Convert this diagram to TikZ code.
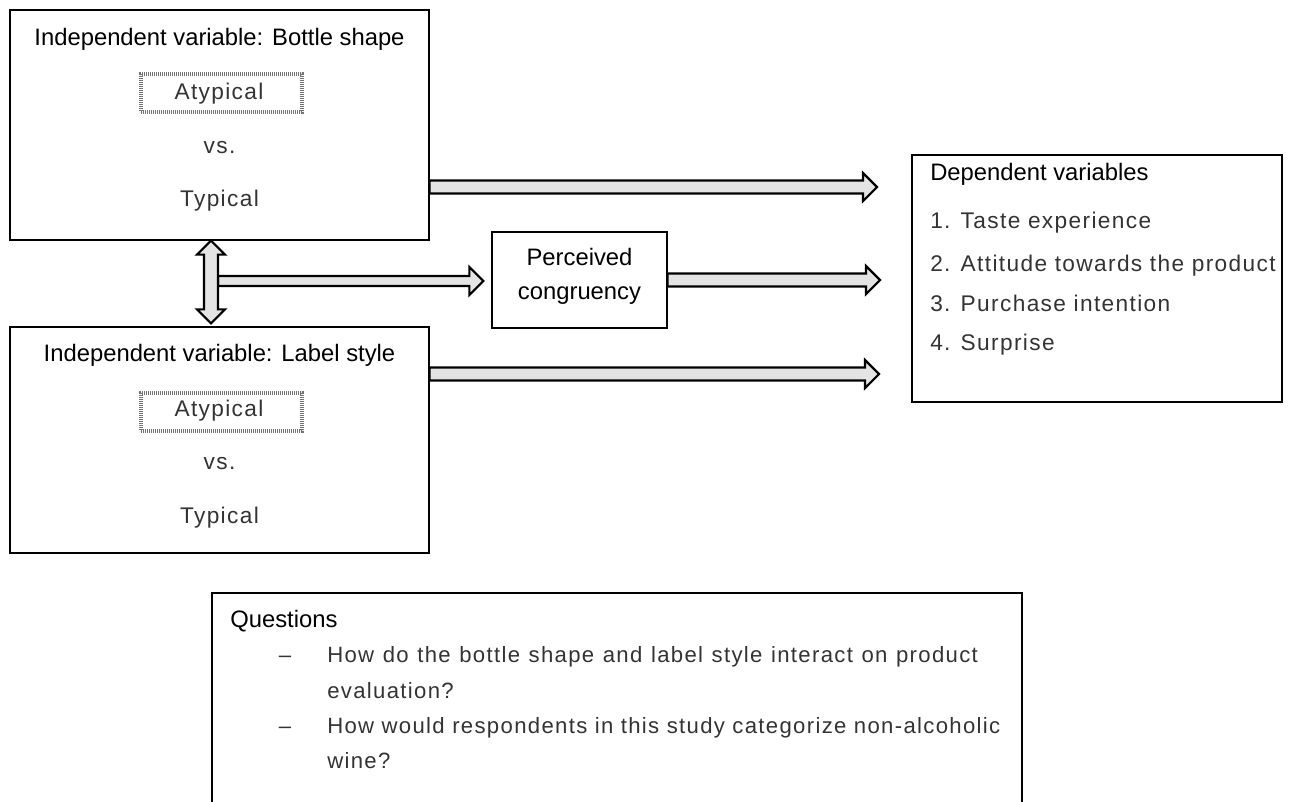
\documentclass[tikz,border=0pt]{standalone}
\usepackage{fontspec}
\setmainfont{Liberation Sans}
\newfontfamily\lightfont[LetterSpace=6]{Liberation Sans}
\usetikzlibrary{calc,fit}
\definecolor{arrowfill}{HTML}{E4E4E4}
\definecolor{softtext}{HTML}{333333}
\newcommand\hblock[3]{% start, end, shaft half-height
  \draw[blk] ($(#1)+(0,-#3)$) -- ($(#2)+(-14,-#3)$) -- ($(#2)+(-14,-14)$) -- (#2)
    -- ($(#2)+(-14,14)$) -- ($(#2)+(-14,#3)$) -- ($(#1)+(0,#3)$) -- cycle;}
\begin{document}
\begin{tikzpicture}[x=0.75pt,y=-0.75pt,
  box/.style={draw=black, line width=0.9pt, inner sep=0pt},
  head/.style={font=\fontsize{17.85pt}{20pt}\selectfont, text=black, inner sep=0pt, anchor=base},
  soft/.style={font=\lightfont\fontsize{17pt}{20pt}\selectfont, text=softtext, inner sep=0pt, anchor=base},
  qsoft/.style={soft, font=\lightfont\fontsize{16.6pt}{20pt}\selectfont},
  dotbox/.style={draw=black!55, line width=2.4pt, dash pattern=on 0.9pt off 0.6pt, inner sep=0pt},
  blk/.style={draw=black, line width=1.6pt, fill=arrowfill, line join=miter}]
\useasboundingbox (0,0) rectangle (1291,801);
\clip (0,0) rectangle (1291,801);

% boxes
\node[box, fit={(10,10) (429,240)}] (bottle) {};
\node[box, fit={(10,327) (429,553)}] (labelbox) {};
\node[box, fit={(492,232) (667,328)}] (congr) {};
\node[box, fit={(912,155) (1282,402)}] (dv) {};
\node[box, fit={(212,593) (1022,860)}] (qbox) {};

% bottle shape box
\node[head] (bt) at (219.5,45) {Independent variable: Bottle shape};
\node[dotbox, fit={(141,74) (302,112)}] (bdot) {};
\node[soft] (bat) at (219,99) {Atypical};
\node[soft] (bvs) at (219.5,153) {vs.};
\node[soft] (btyp) at (219.5,206) {Typical};

% label style box
\node[head] (lt) at (219.5,361) {Independent variable: Label style};
\node[dotbox, fit={(141,393) (302,431)}] (ldot) {};
\node[soft] (lat) at (219,416) {Atypical};
\node[soft] (lvs) at (219.5,469) {vs.};
\node[soft] (ltyp) at (219.5,523) {Typical};

% perceived congruency
\node[head] (pc1) at (579.5,265) {Perceived};
\node[head] (pc2) at (579.5,299) {congruency};

% dependent variables
\node[head, anchor=base west] (dvt) at (930,180) {Dependent variables};
\node[soft, anchor=base west] (dv1) at (930,228) {1. Taste experience};
\node[soft, anchor=base west] (dv2) at (930,271) {2. Attitude towards the product};
\node[soft, anchor=base west] (dv3) at (930,311) {3. Purchase intention};
\node[soft, anchor=base west] (dv4) at (930,350) {4. Surprise};

% questions
\node[head, anchor=base west] (qt) at (230,627) {Questions};
\node[qsoft] (qd1) at (285,662) {\textendash};
\node[qsoft, anchor=base west] (q1a) at (327,662) {\makebox[488pt][s]{How do the bottle shape and label style interact on product}};
\node[qsoft, anchor=base west] (q1b) at (327,698) {evaluation?};
\node[qsoft] (qd2) at (285,733) {\textendash};
\node[qsoft, anchor=base west] (q2a) at (327,733) {How would respondents in this study categorize non-alcoholic};
\node[qsoft, anchor=base west] (q2b) at (327,768) {wine?};

% block arrows
\coordinate (a1s) at (bottle.east |- 0,187);
\coordinate (a1e) at (877,187);
\hblock{a1s}{a1e}{6.5}
\coordinate (a2s) at (congr.east);
\coordinate (a2e) at (880,280);
\hblock{a2s}{a2e}{6.5}
\coordinate (a3s) at (labelbox.east |- 0,374);
\coordinate (a3e) at (879,374);
\hblock{a3s}{a3e}{6.5}

% branch to perceived congruency
\coordinate (bs) at (218,281);
\coordinate (be) at ($(congr.west |- bs)+(-8,0)$);
\hblock{bs}{be}{5}

% vertical double arrow
\coordinate (vt) at (bottle.south -| 211,0);
\coordinate (vb) at ($(labelbox.north -| 211,0)+(0,-3)$);
\draw[blk] (vt) -- ($(vt)+(14,14)$) -- ($(vt)+(7,14)$) -- ($(vb)+(7,-14)$) -- ($(vb)+(14,-14)$)
  -- (vb) -- ($(vb)+(-14,-14)$) -- ($(vb)+(-7,-14)$) -- ($(vt)+(-7,14)$) -- ($(vt)+(-14,14)$) -- cycle;
\end{tikzpicture}
\end{document}
